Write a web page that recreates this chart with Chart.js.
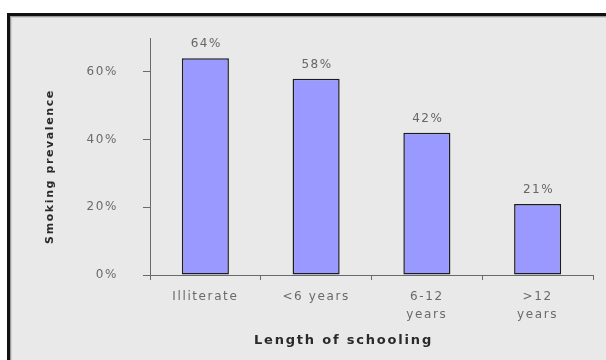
<!DOCTYPE html>
<html>
<head>
<meta charset="utf-8">
<script src="https://cdn.jsdelivr.net/npm/chart.js@4.4.1/dist/chart.umd.min.js"></script>
<style>
  html, body { margin: 0; padding: 0; background: #ffffff; width: 606px; height: 360px; overflow: hidden; }
  #frame { position: absolute; left: 7px; top: 13px; width: 620px; height: 370px;
           border-left: 3px solid #111; border-top: 3px solid #111;
           box-shadow: inset 1px 1px 0 #9a9a9a, inset 2px 2px 0 #cfcfcf; background: #e9e9e9; }
  #c { position: absolute; left: 0; top: 0; }
</style>
</head>
<body>
<div id="frame"></div>
<canvas id="c" width="606" height="360"></canvas>
<script>
const categories = ['Illiterate', '<6 years', '6-12 years', '>12 years'];
const xTickLabels = ['Illiterate', '<6 years', ['6-12', 'years'], ['>12', 'years']];
const prevalence = [64, 58, 42, 21];
const yTicks = [0, 20, 40, 60];
const yTitle = 'Smoking prevalence';
const xTitle = 'Length of schooling';

const textPlugin = {
  id: 'texts',
  beforeDraw(chart) {
    chart.ctx.letterSpacing = '1.6px';
  },
  afterDraw(chart) {
    const ctx = chart.ctx;
    const area = chart.chartArea;
    const meta = chart.getDatasetMeta(0);
    ctx.save();
    ctx.letterSpacing = '1.6px';
    ctx.font = '12px "DejaVu Sans"';
    ctx.fillStyle = '#666666';
    ctx.textAlign = 'center';
    ctx.textBaseline = 'middle';
    meta.data.forEach((el, i) => {
      ctx.fillText(prevalence[i] + '%', el.x + 1, el.y - 14);
    });
    // x title
    ctx.font = 'bold 13px "DejaVu Sans"';
    ctx.letterSpacing = '1.8px';
    ctx.fillStyle = '#2a2a2a';
    ctx.fillText(xTitle, (area.left + area.right) / 2 - 28, area.bottom + 66);
    // y title
    ctx.font = 'bold 11px "DejaVu Sans"';
    ctx.letterSpacing = '1.6px';
    ctx.translate(area.left - 100, (area.top + area.bottom) / 2 + 10);
    ctx.rotate(-Math.PI / 2);
    ctx.fillText(yTitle, 0, 0);
    ctx.restore();
  }
};

new Chart(document.getElementById('c'), {
  type: 'bar',
  data: {
    labels: xTickLabels,
    datasets: [{
      label: 'Smoking prevalence',
      data: prevalence,
      backgroundColor: '#9999ff',
      borderColor: '#1c1c1c',
      borderWidth: 1.5,
      borderSkipped: false,
      barPercentage: 0.425,
      categoryPercentage: 1.0
    }]
  },
  options: {
    responsive: false,
    devicePixelRatio: 1,
    animation: false,
    events: [],
    layout: { padding: { left: 38, right: 13, top: 38, bottom: 0 } },
    plugins: { legend: { display: false }, tooltip: { enabled: false }, title: { display: false } },
    scales: {
      x: {
        offset: true,
        grid: { display: true, drawOnChartArea: false, offset: true, tickLength: 5, color: '#6a6a6a', lineWidth: 1 },
        border: { display: true, color: '#6a6a6a', width: 1 },
        ticks: { color: '#6a6a6a', font: { family: 'DejaVu Sans', size: 12, lineHeight: 1.5 }, padding: 8, maxRotation: 0, autoSkip: false },
        afterFit(s) { s.height = 85; }
      },
      y: {
        min: 0,
        max: 70,
        afterBuildTicks(s) { s.ticks = yTicks.map(v => ({ value: v })); },
        grid: { display: true, drawOnChartArea: false, tickLength: 7, color: '#6a6a6a', lineWidth: 1 },
        border: { display: true, color: '#6a6a6a', width: 1 },
        ticks: { color: '#6a6a6a', font: { family: 'DejaVu Sans', size: 12 }, padding: 25, callback: v => v + '%' },
        afterFit(s) { s.width = 112; }
      }
    }
  },
  plugins: [textPlugin]
});
</script>
</body>
</html>
